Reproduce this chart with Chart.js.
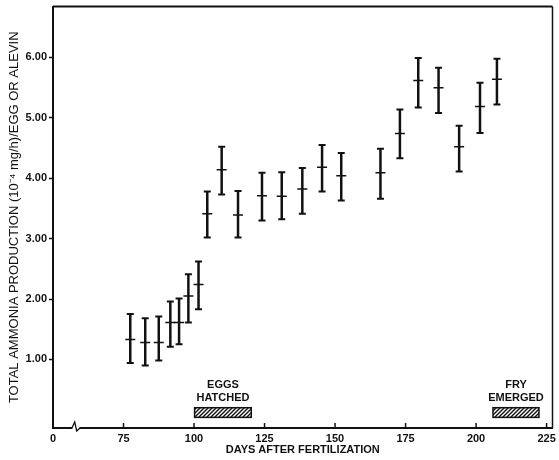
<!DOCTYPE html>
<html>
<head>
<meta charset="utf-8">
<script src="https://cdn.jsdelivr.net/npm/chart.js@4.4.0/dist/chart.umd.min.js"></script>
<style>
  html, body { margin: 0; padding: 0; background: #fff; }
</style>
</head>
<body>
<canvas id="chart" width="559" height="460"></canvas>
<script>
// Sampling days (days after fertilization)
const days = [77.4, 82.7, 87.5, 91.6, 94.7, 98.0, 101.6, 104.7, 109.8, 115.6, 124.1,
              131.1, 138.4, 145.4, 152.2, 166.1, 173.0, 179.5, 186.7, 194.0, 201.4, 207.4];
// Mean ammonia production (10^-4 mg/h per egg or alevin)
const means = [1.33, 1.28, 1.28, 1.61, 1.61, 2.05, 2.24, 3.41, 4.14, 3.39, 3.71,
               3.70, 3.82, 4.18, 4.04, 4.09, 4.74, 5.62, 5.50, 4.52, 5.19, 5.64];
// Error bar limits
const upper = [1.75, 1.68, 1.71, 1.96, 2.01, 2.41, 2.62, 3.78, 4.52, 3.79, 4.09,
               4.10, 4.17, 4.55, 4.42, 4.49, 5.14, 5.99, 5.83, 4.87, 5.58, 5.98];
const lower = [0.94, 0.90, 0.98, 1.21, 1.25, 1.61, 1.83, 3.02, 3.73, 3.02, 3.30,
               3.32, 3.41, 3.78, 3.63, 3.66, 4.33, 5.17, 5.08, 4.11, 4.75, 5.22];

// Axis ticks (the first x tick sits at the axis break and reads "0")
const xTicks = [50, 75, 100, 125, 150, 175, 200, 225];
const yTicks = [1, 2, 3, 4, 5, 6];

// Development stages shown as hatched bars
const stageLabels = [['EGGS', 'HATCHED'], ['FRY', 'EMERGED']];
const stageStart = [100.2, 206.0];
const stageEnd = [120.3, 222.3];
const stageLow = 0.04;
const stageHigh = 0.20;

const INK = '#111';
const FONT = '"Liberation Sans", Arial, sans-serif';

// whisker segments, separated by gaps
const whiskers = [];
days.forEach((d, i) => {
    whiskers.push({x: d, y: lower[i]}, {x: d, y: upper[i]}, {x: d, y: null});
});
const caps = [];
days.forEach((d, i) => {
    caps.push({x: d, y: lower[i]}, {x: d, y: upper[i]});
});
const centers = days.map((d, i) => ({x: d, y: means[i]}));

function hatchPattern(ctx) {
    const c = document.createElement('canvas');
    c.width = 4; c.height = 4;
    const p = c.getContext('2d');
    p.fillStyle = '#fff';
    p.fillRect(0, 0, 4, 4);
    p.strokeStyle = INK;
    p.lineWidth = 1.4;
    p.beginPath();
    p.moveTo(-1, 5); p.lineTo(5, -1);
    p.moveTo(-1, 1); p.lineTo(1, -1);
    p.moveTo(3, 5); p.lineTo(5, 3);
    p.stroke();
    return ctx.createPattern(c, 'repeat');
}

const decorations = {
    id: 'decorations',
    afterDraw(chart) {
        const {ctx, chartArea: a, scales: {x, y}} = chart;
        ctx.save();
        ctx.strokeStyle = INK;

        // top and right frame
        ctx.lineWidth = 2;
        ctx.beginPath();
        ctx.moveTo(a.left, a.top);
        ctx.lineTo(a.right, a.top);
        ctx.stroke();
        ctx.lineWidth = 1.5;
        ctx.beginPath();
        ctx.moveTo(a.right, a.top);
        ctx.lineTo(a.right, a.bottom);
        ctx.stroke();

        // inward x ticks
        ctx.lineWidth = 1.5;
        xTicks.slice(1).forEach(v => {
            const px = x.getPixelForValue(v);
            ctx.beginPath();
            ctx.moveTo(px, a.bottom);
            ctx.lineTo(px, a.bottom - 5);
            ctx.stroke();
        });

        // axis break
        const b0 = x.getPixelForValue(56.7);
        const b1 = x.getPixelForValue(59.6);
        const pk = x.getPixelForValue(57.7);
        const tr = x.getPixelForValue(58.4);
        ctx.fillStyle = '#fff';
        ctx.fillRect(b0 + 0.5, a.bottom - 2, b1 - b0 - 1, 4);
        ctx.lineWidth = 1.3;
        ctx.beginPath();
        ctx.moveTo(b0, a.bottom);
        ctx.lineTo(pk, a.bottom - 6);
        ctx.lineTo(tr, a.bottom + 3);
        ctx.lineTo(b1, a.bottom);
        ctx.stroke();

        // hatched stage bars with labels
        const pat = hatchPattern(ctx);
        stageStart.forEach((s, i) => {
            const x0 = x.getPixelForValue(s);
            const x1 = x.getPixelForValue(stageEnd[i]);
            const y0 = y.getPixelForValue(stageHigh);
            const y1 = y.getPixelForValue(stageLow);
            ctx.fillStyle = pat;
            ctx.fillRect(x0, y0, x1 - x0, y1 - y0);
            ctx.lineWidth = 1.5;
            ctx.strokeRect(x0, y0, x1 - x0, y1 - y0);
            ctx.fillStyle = INK;
            ctx.font = 'bold 11px ' + FONT;
            ctx.textAlign = 'center';
            ctx.textBaseline = 'middle';
            const cx = (x0 + x1) / 2;
            ctx.fillText(stageLabels[i][0], cx, y0 - 23);
            ctx.fillText(stageLabels[i][1], cx, y0 - 10);
        });
        ctx.restore();
    }
};

new Chart(document.getElementById('chart'), {
    type: 'scatter',
    data: {
        datasets: [
            {
                data: whiskers,
                showLine: true,
                spanGaps: false,
                borderColor: INK,
                borderWidth: 2.5,
                pointRadius: 0
            },
            {
                data: caps,
                pointStyle: 'line',
                pointRadius: 3.5,
                pointBorderWidth: 2,
                borderColor: INK,
                backgroundColor: INK
            },
            {
                data: centers,
                pointStyle: 'line',
                pointRadius: 5,
                pointBorderWidth: 1.5,
                borderColor: INK,
                backgroundColor: INK
            }
        ]
    },
    options: {
        responsive: false,
        animation: false,
        layout: { padding: { top: 6, right: 3, left: 0, bottom: 0 } },
        plugins: {
            legend: { display: false },
            tooltip: { enabled: false }
        },
        scales: {
            x: {
                type: 'linear',
                min: 50,
                max: 227.1,
                afterBuildTicks: s => { s.ticks = xTicks.map(v => ({value: v})); },
                afterFit: s => { s.height = 32; s.paddingLeft = 0; s.paddingRight = 0; },
                grid: { display: false, tickLength: 0 },
                border: { display: true, color: INK, width: 2 },
                ticks: {
                    callback: v => (v === 50 ? '0' : String(v)),
                    color: INK,
                    font: { family: FONT, size: 11, weight: 'bold' },
                    maxRotation: 0,
                    autoSkip: false,
                    padding: 4
                },
                title: {
                    display: true,
                    text: 'DAYS AFTER FERTILIZATION',
                    color: INK,
                    font: { family: FONT, size: 11, weight: 'bold' },
                    padding: { top: 0, bottom: 3 }
                }
            },
            y: {
                min: -0.136,
                max: 6.844,
                afterBuildTicks: s => { s.ticks = yTicks.map(v => ({value: v})); },
                afterFit: s => { s.width = 53; s.paddingTop = 0; s.paddingBottom = 0; },
                grid: {
                    display: true,
                    drawOnChartArea: false,
                    drawTicks: true,
                    tickLength: 4,
                    tickWidth: 1.5,
                    tickColor: INK
                },
                border: { display: true, color: INK, width: 2 },
                ticks: {
                    callback: v => v.toFixed(2),
                    color: INK,
                    font: { family: FONT, size: 11, weight: 'bold' },
                    padding: 2
                },
                title: {
                    display: true,
                    text: 'TOTAL AMMONIA PRODUCTION (10\u207B\u2074 mg/h)/EGG OR ALEVIN',
                    color: INK,
                    font: { family: FONT, size: 13 },
                    padding: { top: 7, bottom: 0 }
                }
            }
        }
    },
    plugins: [decorations]
});
</script>
</body>
</html>
